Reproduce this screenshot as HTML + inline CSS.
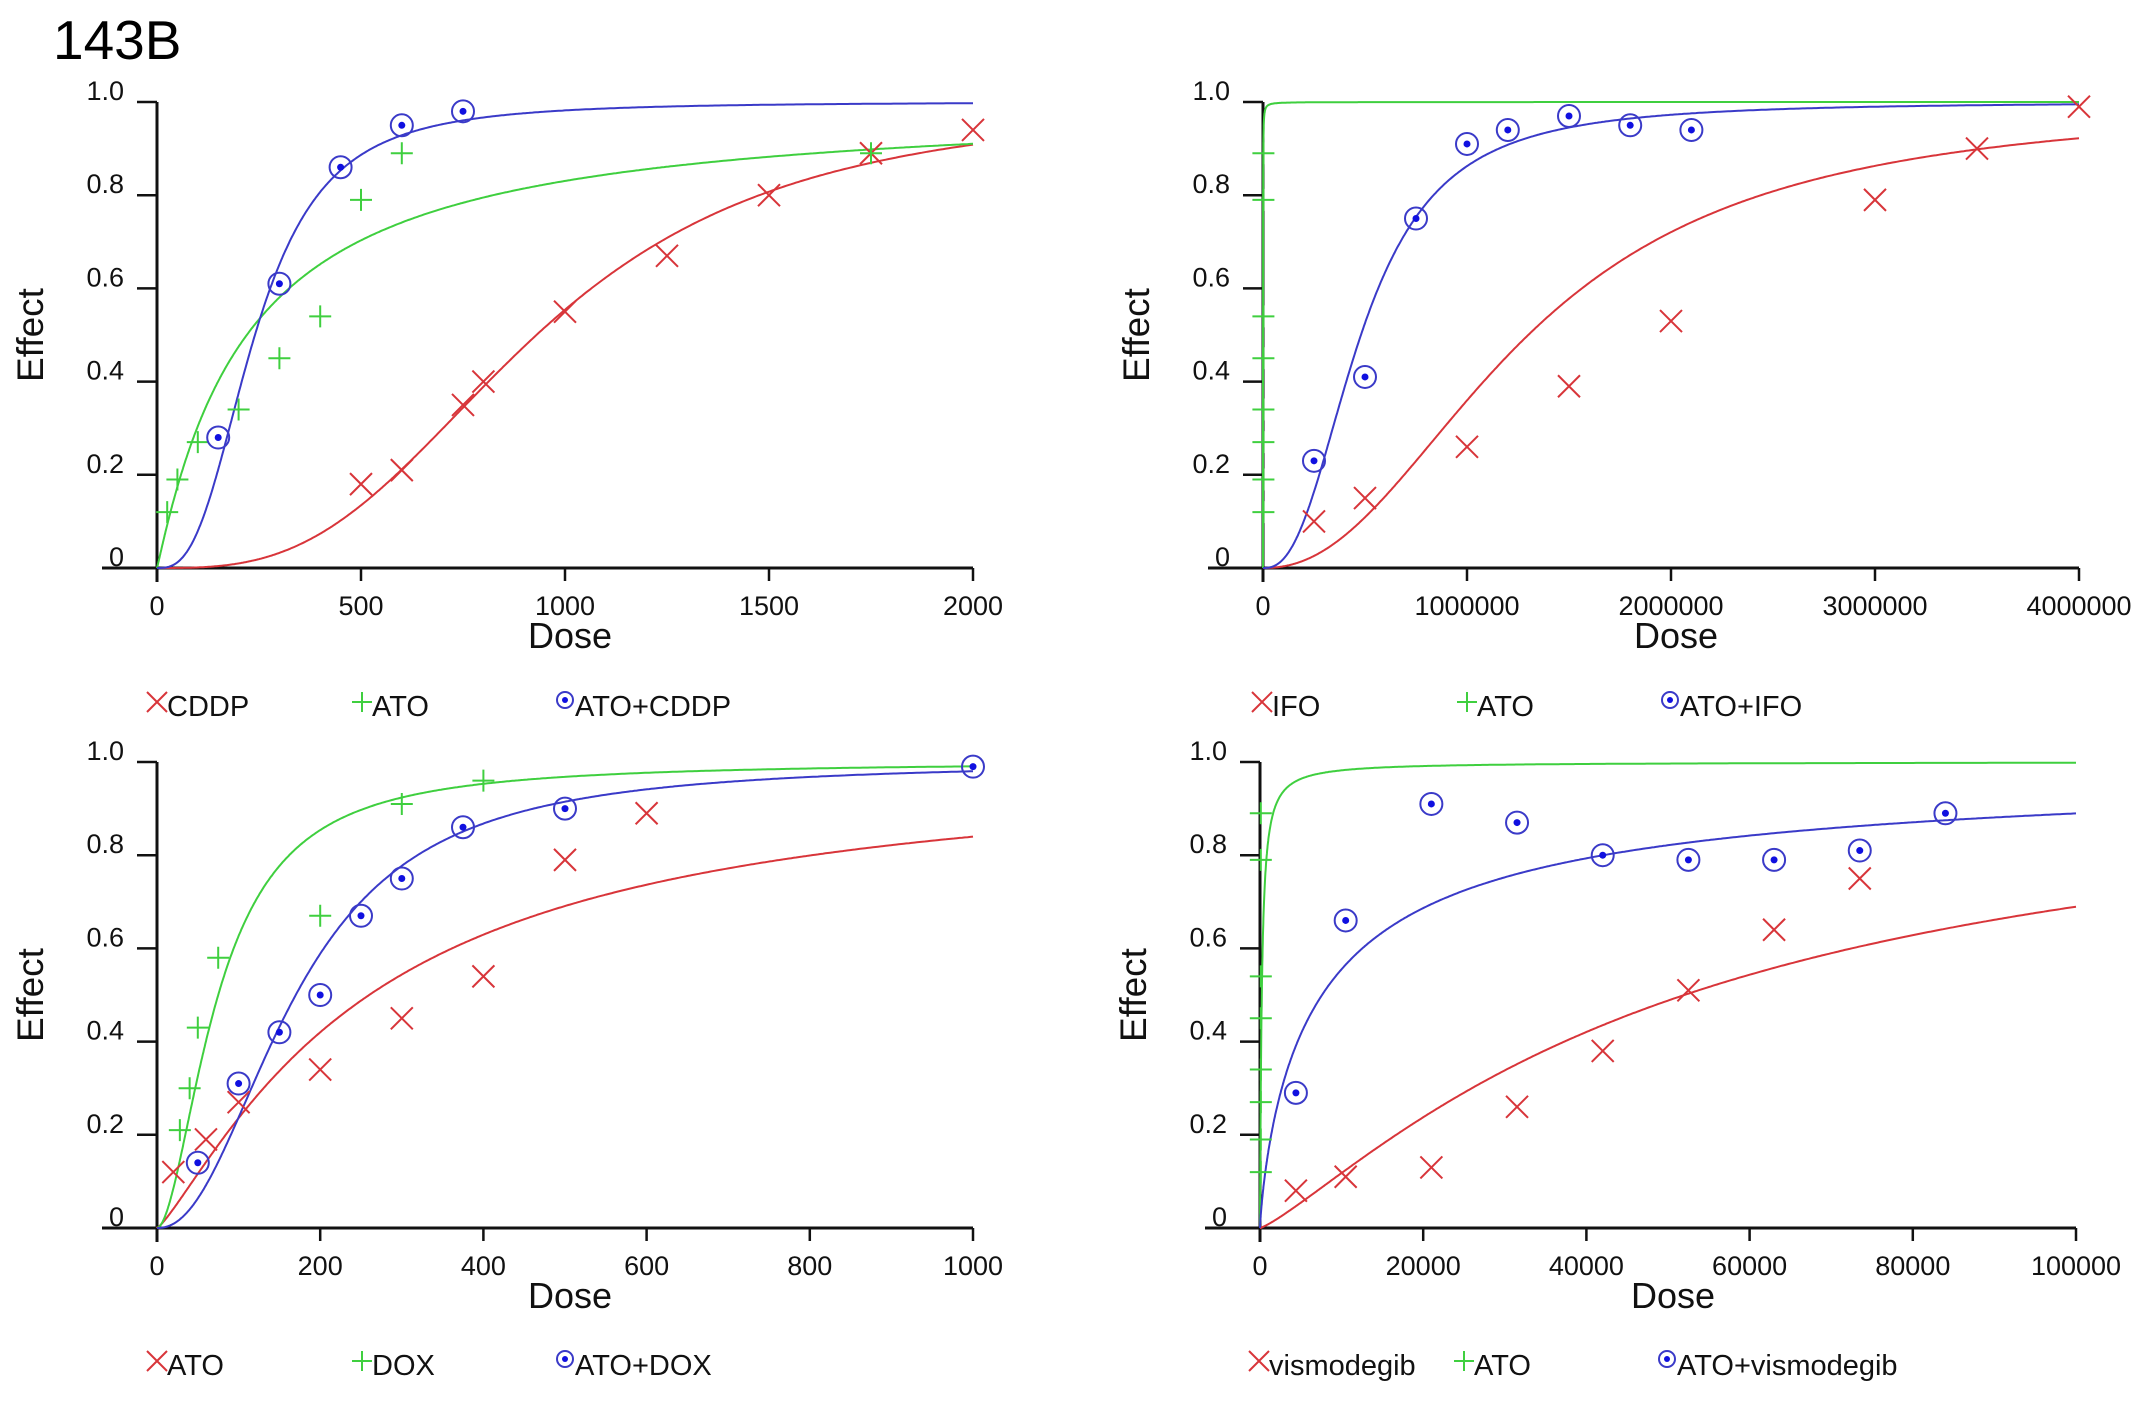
<!DOCTYPE html>
<html><head><meta charset="utf-8"><style>
body{margin:0;background:#fff;}
svg{display:block;font-family:"Liberation Sans",Arial,sans-serif;}
</style></head><body>
<svg id="chart" width="2150" height="1403" viewBox="0 0 2150 1403">
<text x="53" y="59" font-size="55" fill="#000">143B</text>
</svg>
<script>
// Panel 1: CDDP
const p1Red = [[500,.18],[600,.21],[750,.35],[800,.40],[1000,.55],[1250,.67],[1500,.80],[1750,.89],[2000,.94]];
const p1Green = [[25,.12],[50,.19],[100,.27],[200,.34],[300,.45],[400,.54],[500,.79],[600,.89],[1750,.89]];
const p1Blue = [[150,.28],[300,.61],[450,.86],[600,.95],[750,.98]];
const p1Fits = [[930,3.0],[220,1.05],[240,2.8]];
const p1Ticks = [0,500,1000,1500,2000];
// Panel 2: IFO
const p2Red = [[250000,.10],[500000,.15],[1000000,.26],[1500000,.39],[2000000,.53],[3000000,.79],[3500000,.90],[4000000,.99]];
const p2Green = [[2000,.12],[2000,.19],[2000,.27],[2000,.34],[2000,.45],[2000,.54],[2000,.79],[2000,.89]];
const p2Blue = [[250000,.23],[500000,.41],[750000,.75],[1000000,.91],[1200000,.94],[1500000,.97],[1800000,.95],[2100000,.94]];
const p2Fits = [[1300000,2.2],[220,1.05],[480000,2.5]];
const p2Ticks = [0,1000000,2000000,3000000,4000000];
// Panel 3: DOX
const p3Red = [[20,.12],[60,.19],[100,.27],[200,.34],[300,.45],[400,.54],[500,.79],[600,.89]];
const p3Green = [[28,.21],[40,.30],[50,.43],[75,.58],[200,.67],[300,.91],[400,.96]];
const p3Blue = [[50,.14],[100,.31],[150,.42],[200,.50],[250,.67],[300,.75],[375,.86],[500,.90],[1000,.99]];
const p3Fits = [[260,1.23],[75,1.8],[170,2.2]];
const p3Ticks = [0,200,400,600,800,1000];
// Panel 4: vismodegib
const p4Red = [[4400,.08],[10500,.11],[21000,.13],[31500,.26],[42000,.38],[52500,.51],[63000,.64],[73500,.75]];
const p4Green = [[100,.12],[100,.19],[100,.27],[100,.34],[100,.45],[100,.54],[100,.79],[100,.89]];
const p4Blue = [[4400,.29],[10500,.66],[21000,.91],[31500,.87],[42000,.80],[52500,.79],[63000,.79],[73500,.81],[84000,.89]];
const p4Fits = [[52000,1.22],[220,1.05],[7600,0.81]];
const p4Ticks = [0,20000,40000,60000,80000,100000];
const yTicks = [0,0.2,0.4,0.6,0.8,1.0];
const yTickLabels = ["0","0.2","0.4","0.6","0.8","1.0"];
const legend1 = ["CDDP","ATO","ATO+CDDP"];
const legend2 = ["IFO","ATO","ATO+IFO"];
const legend3 = ["ATO","DOX","ATO+DOX"];
const legend4 = ["vismodegib","ATO","ATO+vismodegib"];

const NS="http://www.w3.org/2000/svg";
const svg=document.getElementById('chart');
const RED="#d8353a",GREEN="#3fcf3f",BLUE="#3a3ac8";
function mk(tag,attrs,parent){const e=document.createElementNS(NS,tag);for(const k in attrs)e.setAttribute(k,attrs[k]);(parent||svg).appendChild(e);return e;}

function panel(id,x0,x1,y0,y1,xmax,ticks,red,green,blue,fits,legend,legY,legX){
  const g=mk('g',{});
  
  
  const sx=v=>x0+(v/xmax)*(x1-x0);
  const sy=v=>y0-(v)*(y0-y1);
  const xa=mk('line',{x1:x0-55,y1:y0,x2:x1,y2:y0,stroke:'#111','stroke-width':3},g);
  
  
  const ya=mk('line',{x1:x0,y1:y0+14,x2:x0,y2:y1,stroke:'#111','stroke-width':3},g);
  
  
  ticks.forEach(t=>{
    mk('line',{x1:sx(t),y1:y0,x2:sx(t),y2:y0+13,stroke:'#111','stroke-width':2.5},g);
    const tl=mk('text',{x:sx(t),y:y0+47,'font-size':27,'text-anchor':'middle',fill:'#111'},g);
    tl.textContent=t;
    
    
  });
  yTicks.forEach((t,i)=>{
    if(i>0) mk('line',{x1:x0-20,y1:sy(t),x2:x0,y2:sy(t),stroke:'#111','stroke-width':2.5},g);
    const tl=mk('text',{x:x0-33,y:sy(t)-2,'font-size':27,'text-anchor':'end',fill:'#111'},g);
    tl.textContent=yTickLabels[i];
    
    
  });
  const xt=mk('text',{x:(x0+x1)/2+5,y:y0+80,'font-size':36,'text-anchor':'middle',fill:'#111'},g);
  xt.textContent='Dose';
  
  
  const yc=(y0+y1)/2;
  const yt=mk('text',{x:0,y:0,'font-size':37,'text-anchor':'middle',fill:'#111',transform:`translate(${x0-114},${yc}) rotate(-90)`},g);
  yt.textContent='Effect';
  
  
  const cols=[RED,GREEN,BLUE];
  const names=['curve-red','curve-green','curve-blue'];
  fits.forEach((f,i)=>{
    let d='';
    for(let k=0;k<=600;k++){
      const dose=xmax*Math.pow(k/600,2);
      const fa=dose<=0?0:1/(1+Math.pow(f[0]/dose,f[1]));
      d+=(k?'L':'M')+sx(dose).toFixed(1)+','+sy(fa).toFixed(1);
    }
    const p=mk('path',{d:d,fill:'none',stroke:cols[i],'stroke-width':2},g);
    
    
  });
  red.forEach(pt=>{
    const x=sx(pt[0]),y=sy(pt[1]);
    const m=mk('path',{d:`M${x-11},${y-11}L${x+11},${y+11}M${x-11},${y+11}L${x+11},${y-11}`,stroke:RED,'stroke-width':2,fill:'none'},g);
    
    
  });
  green.forEach(pt=>{
    const x=sx(pt[0]),y=sy(pt[1]);
    const m=mk('path',{d:`M${x-11},${y}L${x+11},${y}M${x},${y-11}L${x},${y+11}`,stroke:GREEN,'stroke-width':2,fill:'none'},g);
    
    
  });
  blue.forEach(pt=>{
    const x=sx(pt[0]),y=sy(pt[1]);
    const m=mk('circle',{cx:x,cy:y,r:11,stroke:BLUE,'stroke-width':2,fill:'none'},g);
    
    
    mk('circle',{cx:x,cy:y,r:3.5,fill:'#1010e0'},g);
  });
  const lx=[legX,legX+205,legX+408];
  legend.forEach((t,i)=>{
    const x=lx[i],y=legY-12;
    if(i==0) mk('path',{d:`M${x-10},${y-12}L${x+10},${y+8}M${x-10},${y+8}L${x+10},${y-12}`,stroke:RED,'stroke-width':2},g);
    if(i==1) mk('path',{d:`M${x-10},${y-2}L${x+10},${y-2}M${x},${y-12}L${x},${y+8}`,stroke:GREEN,'stroke-width':2},g);
    if(i==2){mk('circle',{cx:x,cy:y-4,r:8,stroke:BLUE,'stroke-width':2,fill:'none'},g);mk('circle',{cx:x,cy:y-4,r:3,fill:'#1010e0'},g);}
    const tx=mk('text',{x:x+10,y:legY,'font-size':29,fill:'#111'},g);
    tx.textContent=t;
    
    
  });
}
panel('panel-cddp',157,973,568,102,2000,p1Ticks,p1Red,p1Green,p1Blue,p1Fits,legend1,716,157);
panel('panel-ifo',1263,2079,568,102,4000000,p2Ticks,p2Red,p2Green,p2Blue,p2Fits,legend2,716,1262);
panel('panel-dox',157,973,1228,762,1000,p3Ticks,p3Red,p3Green,p3Blue,p3Fits,legend3,1375,157);
panel('panel-vismodegib',1260,2076,1228,762,100000,p4Ticks,p4Red,p4Green,p4Blue,p4Fits,legend4,1375,1259);
</script>
</body></html>
